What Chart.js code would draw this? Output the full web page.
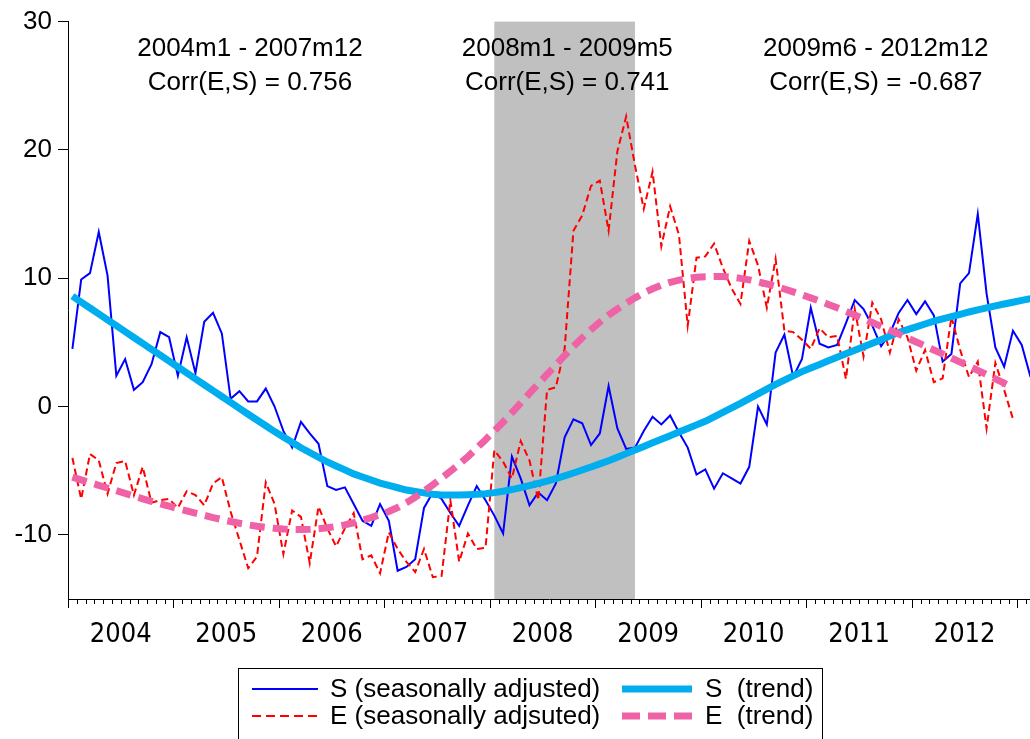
<!DOCTYPE html>
<html>
<head>
<meta charset="utf-8">
<script src="https://cdn.jsdelivr.net/npm/chart.js@4.4.1/dist/chart.umd.min.js"></script>
<style>
html,body{margin:0;padding:0;background:#fff;}
#wrap{width:1030px;height:739px;position:relative;overflow:hidden;}
</style>
</head>
<body>
<div id="wrap"><canvas id="c" width="1030" height="739"></canvas></div>
<script>
// ---- data (monthly, index 0 = 2004m1) ----
const S_SA = [
  4.5, 9.9, 10.4, 13.6, 10.2, 2.4, 3.7, 1.3, 1.9, 3.3,
  5.8, 5.4, 2.4, 5.4, 2.6, 6.6, 7.3, 5.7, 0.6, 1.2,
  0.4, 0.4, 1.4, 0.0, -1.9, -3.2, -1.2, -2.1, -2.9, -6.2,
  -6.5, -6.3, -7.6, -8.9, -9.3, -7.6, -8.9, -12.8, -12.5, -11.9,
  -7.9, -6.7, -7.2, -8.3, -9.3, -7.7, -6.2, -7.3, -8.5, -9.9,
  -3.9, -5.6, -7.7, -6.7, -7.3, -6.0, -2.4, -1.0, -1.3, -3.0,
  -2.1, 1.6, -1.7, -3.3, -3.2, -1.9, -0.8, -1.4, -0.7, -2.0,
  -3.2, -5.3, -4.9, -6.4, -5.2, -5.6, -6.0, -4.7, 0.0, -1.4,
  4.2, 5.6, 2.3, 3.7, 7.7, 4.9, 4.6, 4.8, 6.5, 8.3,
  7.6, 6.3, 4.7, 5.7, 7.3, 8.3, 7.2, 8.2, 7.1, 3.5,
  4.1, 9.6, 10.4, 15.0, 8.8, 4.6, 3.1, 5.9, 4.8, 2.3
];
const E_SA = [
  -4.0, -7.2, -3.7, -4.2, -6.8, -4.4, -4.25, -6.9, -4.7, -7.5,
  -7.3, -7.2, -7.9, -6.6, -6.9, -7.7, -6.0, -5.5, -8.2, -10.4,
  -12.6, -11.7, -5.9, -7.6, -11.5, -8.1, -8.6, -12.2, -7.8, -9.5,
  -10.9, -9.5, -8.3, -11.9, -11.6, -13.0, -9.8, -11.1, -12.1, -12.9,
  -11.1, -13.3, -13.2, -7.3, -12.1, -9.9, -11.1, -11.0, -3.4, -4.3,
  -5.6, -2.7, -4.2, -7.3, 1.3, 1.5, 4.5, 13.7, 14.9, 17.2,
  17.6, 13.7, 19.9, 22.6, 18.8, 15.4, 18.3, 12.5, 15.6, 13.4,
  6.3, 11.6, 11.7, 12.7, 10.8, 9.2, 8.0, 12.9, 11.0, 7.7,
  11.5, 5.9, 5.8, 5.2, 4.5, 6.1, 5.4, 5.5, 2.15, 7.6,
  3.9, 8.1, 6.8, 4.2, 6.8, 5.4, 2.8, 4.4, 1.9, 2.2,
  7.0, 4.4, 2.3, 3.5, -1.7, 3.4, 1.3, -0.96
];
const S_TREND = [
  8.6, 8.14, 7.68, 7.22, 6.76, 6.3, 5.84, 5.38, 4.92, 4.46,
  4.0, 3.54, 3.08, 2.62, 2.16, 1.7, 1.24, 0.78, 0.32, -0.14,
  -0.6, -1.05, -1.5, -1.95, -2.37, -2.79, -3.21, -3.58, -3.95, -4.32,
  -4.63, -4.94, -5.25, -5.49, -5.73, -5.97, -6.15, -6.33, -6.51, -6.62,
  -6.73, -6.84, -6.89, -6.9, -6.89, -6.87, -6.84, -6.79, -6.71, -6.6,
  -6.47, -6.32, -6.16, -5.99, -5.81, -5.61, -5.4, -5.18, -4.95, -4.71,
  -4.47, -4.23, -3.95, -3.67, -3.39, -3.11, -2.83, -2.55, -2.27, -1.99,
  -1.71, -1.43, -1.15, -0.8, -0.45, -0.1, 0.25, 0.62, 0.99, 1.36,
  1.73, 2.06, 2.39, 2.72, 3.0, 3.28, 3.56, 3.84, 4.11, 4.38,
  4.65, 4.93, 5.21, 5.49, 5.77, 5.99, 6.21, 6.43, 6.65, 6.83,
  7.01, 7.19, 7.37, 7.53, 7.69, 7.85, 7.99, 8.13, 8.27, 8.41
];
const E_TREND = [
  -5.5, -5.72, -5.93, -6.14, -6.35, -6.56, -6.77, -6.98, -7.19, -7.39,
  -7.58, -7.77, -7.95, -8.13, -8.31, -8.48, -8.65, -8.81, -8.96, -9.1,
  -9.22, -9.33, -9.42, -9.49, -9.54, -9.57, -9.58, -9.56, -9.52, -9.45,
  -9.35, -9.22, -9.06, -8.87, -8.66, -8.43, -8.18, -7.87, -7.5, -7.07,
  -6.6, -6.1, -5.58, -5.05, -4.5, -3.9, -3.25, -2.58, -1.9, -1.2,
  -0.48, 0.27, 1.02, 1.77, 2.5, 3.24, 3.98, 4.68, 5.36, 6.0,
  6.58, 7.12, 7.6, 8.05, 8.47, 8.85, 9.18, 9.46, 9.68, 9.85,
  9.98, 10.07, 10.12, 10.14, 10.13, 10.08, 9.99, 9.87, 9.72, 9.55,
  9.36, 9.16, 8.94, 8.71, 8.47, 8.22, 7.96, 7.69, 7.41, 7.13,
  6.84, 6.55, 6.25, 5.95, 5.65, 5.34, 5.03, 4.72, 4.41, 4.1,
  3.78, 3.46, 3.14, 2.82, 2.5, 2.16, 1.82, 1.48
];
const YEARS = ['2004','2005','2006','2007','2008','2009','2010','2011','2012'];
const Y_TICKS = [-10, 0, 10, 20, 30];
const SHADE_START = 48;  // 2008m1
const SHADE_END = 64;    // 2009m5
const PERIODS = ['2004m1 - 2007m12', '2008m1 - 2009m5', '2009m6 - 2012m12'];
const CORRS = ['Corr(E,S) = 0.756', 'Corr(E,S) = 0.741', 'Corr(E,S) = -0.687'];
const LEGEND_LABELS = ['S (seasonally adjusted)', 'S  (trend)', 'E (seasonally adjsuted)', 'E  (trend)'];

// ---- styling / layout ----
const FONT = "'Liberation Sans', Arial, Helvetica, sans-serif";
const NARROW = "'Liberation Sans Narrow', 'DejaVu Sans Condensed', 'Liberation Sans', Arial, sans-serif";
Chart.defaults.font.family = FONT;
const X_MAX = 109.44;
const COL_S = '#0000FF', COL_E = '#FF0000', COL_ST = '#00AEEF', COL_ET = '#F062A6';

const toPts = arr => arr.map((v, i) => ({x: i + 0.5, y: v}));

const shadePlugin = {
  id: 'shade',
  beforeDatasetsDraw(chart) {
    const {ctx, chartArea: a, scales: {x}} = chart;
    const x0 = x.getPixelForValue(SHADE_START + 0.5);
    const x1 = x.getPixelForValue(SHADE_END + 0.5);
    ctx.save();
    ctx.fillStyle = '#C0C0C0';
    ctx.fillRect(x0, a.top, x1 - x0, a.bottom - a.top);
    ctx.restore();
  }
};

const monthTicks = {
  id: 'monthTicks',
  afterDraw(chart) {
    const {ctx, chartArea: a, scales: {x}} = chart;
    ctx.save();
    ctx.strokeStyle = '#000';
    ctx.lineWidth = 1;
    ctx.beginPath();
    for (let k = 0; k <= Math.floor(X_MAX); k++) {
      const px = Math.round(x.getPixelForValue(k)) + 0.5;
      const len = (k % 12 === 0) ? 9 : 5;
      ctx.moveTo(px, a.bottom);
      ctx.lineTo(px, a.bottom + len);
    }
    ctx.stroke();
    ctx.restore();
  }
};

const annotations = {
  id: 'annot',
  afterDatasetsDraw(chart) {
    const {ctx, scales: {x, y}} = chart;
    const centers = [20.7, 56.8, 91.9];
    ctx.save();
    ctx.fillStyle = '#000';
    ctx.font = '26px ' + FONT;
    ctx.textAlign = 'center';
    ctx.textBaseline = 'middle';
    for (let k = 0; k < PERIODS.length; k++) {
      const cx = x.getPixelForValue(centers[k]);
      ctx.fillText(PERIODS[k], cx, y.getPixelForValue(27.86));
      ctx.fillText(CORRS[k], cx, y.getPixelForValue(25.2));
    }
    ctx.restore();
  }
};

const legendBox = {
  id: 'legendBox',
  afterDraw(chart) {
    const ctx = chart.ctx;
    ctx.save();
    ctx.strokeStyle = '#000';
    ctx.lineWidth = 1;
    ctx.strokeRect(238.5, 668.5, 584, 100);
    const rows = [689, 716];
    const items = [
      {col: 0, row: 0, color: COL_S, w: 2, dash: [], label: LEGEND_LABELS[0]},
      {col: 1, row: 0, color: COL_ST, w: 7, dash: [], label: LEGEND_LABELS[1]},
      {col: 0, row: 1, color: COL_E, w: 2, dash: [9, 5], label: LEGEND_LABELS[2]},
      {col: 1, row: 1, color: COL_ET, w: 7, dash: [18, 8], label: LEGEND_LABELS[3]}
    ];
    const cols = [{x0: 252, x1: 318, tx: 330}, {x0: 622, x1: 692, tx: 705}];
    ctx.font = '26px ' + FONT;
    ctx.textBaseline = 'middle';
    ctx.textAlign = 'left';
    for (const it of items) {
      const c = cols[it.col], yy = rows[it.row];
      ctx.beginPath();
      ctx.setLineDash(it.dash);
      ctx.lineCap = 'butt';
      ctx.strokeStyle = it.color;
      ctx.lineWidth = it.w;
      ctx.moveTo(c.x0, yy);
      ctx.lineTo(c.x1, yy);
      ctx.stroke();
      ctx.setLineDash([]);
      ctx.fillStyle = '#000';
      ctx.fillText(it.label, c.tx, yy + 1);
    }
    ctx.restore();
  }
};

new Chart(document.getElementById('c').getContext('2d'), {
  type: 'line',
  data: {
    datasets: [
      {label: 'E (trend)', data: toPts(E_TREND), borderColor: COL_ET, borderWidth: 7, borderDash: [15, 8], pointRadius: 0, fill: false, tension: 0},
      {label: 'S (trend)', data: toPts(S_TREND), borderColor: COL_ST, borderWidth: 7, pointRadius: 0, fill: false, tension: 0},
      {label: 'E (seasonally adjsuted)', data: toPts(E_SA), borderColor: COL_E, borderWidth: 2, borderDash: [7, 4], pointRadius: 0, fill: false, tension: 0},
      {label: 'S (seasonally adjusted)', data: toPts(S_SA), borderColor: COL_S, borderWidth: 2, pointRadius: 0, fill: false, tension: 0}
    ]
  },
  options: {
    responsive: false,
    animation: false,
    devicePixelRatio: 1,
    layout: {padding: {top: 20, right: 0, left: 0, bottom: 0}},
    plugins: {legend: {display: false}, tooltip: {enabled: false}},
    scales: {
      x: {
        type: 'linear', min: 0, max: X_MAX,
        afterBuildTicks: s => { s.ticks = YEARS.map((yr, k) => ({value: k * 12 + 6})); },
        ticks: {callback: (v, i) => YEARS[i], font: {size: 27, family: NARROW}, color: '#000', padding: 10, maxRotation: 0, autoSkip: false},
        grid: {display: true, drawOnChartArea: false, drawTicks: true, tickLength: 10, color: 'rgba(0,0,0,0)'},
        border: {display: true, color: '#000', width: 1},
        afterFit: s => { s.height = 140; }
      },
      y: {
        min: -15, max: 30,
        afterBuildTicks: s => { s.ticks = Y_TICKS.map(v => ({value: v})); },
        ticks: {font: {size: 26}, color: '#000', padding: 6},
        grid: {drawOnChartArea: false, drawTicks: true, tickLength: 10, color: '#000'},
        border: {display: true, color: '#000', width: 1},
        afterFit: s => { s.width = 68; }
      }
    }
  },
  plugins: [shadePlugin, monthTicks, annotations, legendBox]
});
</script>
</body>
</html>
